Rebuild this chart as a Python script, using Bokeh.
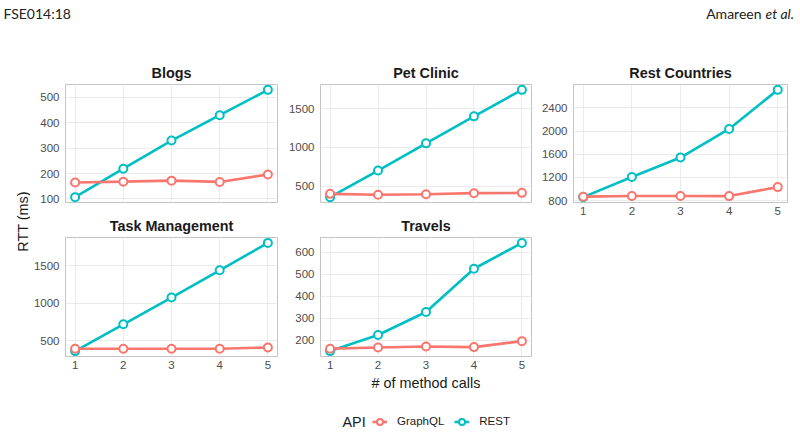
import math
from bokeh.plotting import figure
from bokeh.models import Range1d, FixedTicker, Label, Legend, LegendItem, Spacer
from bokeh.layouts import column, row
from bokeh.embed import file_html
from bokeh.resources import INLINE

# ---------------- data ----------------
calls = [1, 2, 3, 4, 5]
x_ticks = [1, 2, 3, 4, 5]

graphql_blogs = [165, 168, 172, 167, 196]
rest_blogs = [107, 219, 330, 430, 530]
yticks_blogs = [100, 200, 300, 400, 500]

graphql_pet = [402, 390, 398, 411, 415]
rest_pet = [360, 702, 1052, 1399, 1740]
yticks_pet = [500, 1000, 1500]

graphql_rc = [868, 880, 880, 878, 1033]
rest_rc = [860, 1209, 1544, 2038, 2713]
yticks_rc = [800, 1200, 1600, 2000, 2400]

graphql_tm = [390, 390, 390, 390, 407]
rest_tm = [359, 717, 1075, 1439, 1805]
yticks_tm = [500, 1000, 1500]

graphql_tr = [163, 168, 173, 170, 197]
rest_tr = [152, 225, 329, 525, 642]
yticks_tr = [200, 300, 400, 500, 600]

series_names = ["GraphQL", "REST"]
series_colors = ["#F8766D", "#00BFC4"]

FONT = "Liberation Sans"


def make_panel(title, gq, rs, yticks, width, height, bl, br, bt, bb,
               show_x=True, xlabel=None, title_standoff=8):
    allv = gq + rs
    lo, hi = min(allv), max(allv)
    pad = 0.05 * (hi - lo)
    xlo, xhi = min(calls), max(calls)
    xpad = 0.05 * (xhi - xlo)
    p = figure(width=width, height=height, title=title,
               x_range=Range1d(xlo - xpad, xhi + xpad),
               y_range=Range1d(lo - pad, hi + pad),
               output_backend="svg", toolbar_location=None,
               x_axis_location="below" if show_x else None,
               min_border_left=bl, min_border_right=br,
               min_border_top=bt, min_border_bottom=bb)
    p.background_fill_color = "white"
    p.border_fill_color = "white"
    p.outline_line_color = "#C4C4C4"
    p.outline_line_width = 1
    p.title.align = "center"
    p.title.text_font = FONT
    p.title.text_font_size = "14.4px"
    p.title.text_font_style = "bold"
    p.title.text_color = "#1A1A1A"
    p.title.standoff = title_standoff
    p.xgrid.ticker = FixedTicker(ticks=x_ticks)
    p.ygrid.ticker = FixedTicker(ticks=yticks)
    p.grid.grid_line_color = "#EBEBEB"
    p.grid.grid_line_width = 1
    p.yaxis.ticker = FixedTicker(ticks=yticks)
    axes = list(p.yaxis) + (list(p.xaxis) if show_x else [])
    if show_x:
        p.xaxis.ticker = FixedTicker(ticks=x_ticks)
    for ax in axes:
        ax.axis_line_color = None
        ax.major_tick_line_color = None
        ax.minor_tick_line_color = None
        ax.major_tick_out = 0
        ax.major_tick_in = 0
        ax.major_label_text_font = FONT
        ax.major_label_text_font_size = "11.5px"
        ax.major_label_text_color = "#4D4D4D"
    p.yaxis.major_label_standoff = 6
    if show_x:
        p.xaxis.major_label_standoff = 4
        if xlabel:
            p.xaxis.axis_label = xlabel
            p.xaxis.axis_label_text_font = FONT
            p.xaxis.axis_label_text_font_size = "14.4px"
            p.xaxis.axis_label_text_font_style = "normal"
            p.xaxis.axis_label_text_color = "#1A1A1A"
            p.xaxis.axis_label_standoff = 3
    # lines then points
    p.line(calls, rs, line_color=series_colors[1], line_width=2.6)
    p.line(calls, gq, line_color=series_colors[0], line_width=2.6)
    p.scatter(calls, rs, marker="circle", size=8, fill_color="white",
              line_color=series_colors[1], line_width=2)
    p.scatter(calls, gq, marker="circle", size=8, fill_color="white",
              line_color=series_colors[0], line_width=2)
    return p


def blank(width, height, x0, x1, y0, y1):
    f = figure(width=width, height=height, x_range=Range1d(x0, x1),
               y_range=Range1d(y1, y0), output_backend="svg",
               toolbar_location=None, x_axis_location=None,
               y_axis_location=None, min_border=0)
    f.min_border_left = f.min_border_right = 0
    f.min_border_top = f.min_border_bottom = 0
    f.grid.visible = False
    f.outline_line_color = None
    f.background_fill_color = "white"
    f.border_fill_color = "white"
    return f


# header
header = blank(800, 45, 0, 800, 0, 45)
header.add_layout(Label(x=3, y=13, text="FSE014:18", text_font="Lato",
                        text_font_size="14px", text_baseline="middle",
                        text_align="left", text_color="#222222"))
header.add_layout(Label(x=761, y=13, text="Amareen", text_font="Lato",
                        text_font_size="14px", text_baseline="middle",
                        text_align="right", text_color="#222222"))
header.add_layout(Label(x=765, y=13, text="et al.", text_font="Lato",
                        text_font_size="14px", text_font_style="italic",
                        text_baseline="middle", text_align="left",
                        text_color="#222222"))

# y label strip
ylab = blank(30, 360, 0, 30, 45, 405)
ylab.add_layout(Label(x=22, y=221, text="RTT (ms)", angle=math.pi / 2,
                      text_font=FONT, text_font_size="14.4px",
                      text_align="center", text_baseline="middle",
                      text_color="#1A1A1A"))

p_blogs = make_panel("Blogs", graphql_blogs, rest_blogs, yticks_blogs,
                     255, 165, 33, 8, 39, 8, show_x=False)
p_tm = make_panel("Task Management", graphql_tm, rest_tm, yticks_tm,
                  255, 195, 33, 8, 27, 49)
p_pet = make_panel("Pet Clinic", graphql_pet, rest_pet, yticks_pet,
                   253, 165, 32, 7, 39, 8, show_x=False)
p_tr = make_panel("Travels", graphql_tr, rest_tr, yticks_tr,
                  253, 195, 32, 7, 27, 49, xlabel="# of method calls")
p_rc = make_panel("Rest Countries", graphql_rc, rest_rc, yticks_rc,
                  262, 182, 34, 13, 39, 25)
sp = Spacer(width=262, height=178)

# legend strip (legend-only renderers hold a single NaN so nothing is plotted)
lf = blank(800, 30, 0, 800, 405, 435)
items = []
nan = float("nan")
for name, col in zip(series_names, series_colors):
    l = lf.line([nan, nan], [nan, nan], line_color=col, line_width=2.6)
    s = lf.scatter([nan], [nan], marker="circle", size=8, fill_color="white",
                   line_color=col, line_width=2)
    items.append(LegendItem(label=name, renderers=[l, s]))
leg = Legend(items=items, location=(372, 6.5), orientation="horizontal",
             glyph_width=15, glyph_height=15, label_height=15,
             label_standoff=10, spacing=10, padding=0, margin=0,
             border_line_color=None, background_fill_alpha=0,
             label_text_font=FONT, label_text_font_size="11.5px",
             label_text_color="#1A1A1A", label_text_baseline="middle")
lf.add_layout(leg)
lf.add_layout(Label(x=342, y=421, text="API", text_font=FONT,
                    text_font_size="14.4px", text_baseline="middle",
                    text_align="left", text_color="#1A1A1A"))

layout = column(
    header,
    row(ylab, column(p_blogs, p_tm), column(p_pet, p_tr), column(p_rc, sp)),
    lf,
)

open("out.html", "w").write(file_html(layout, INLINE))
